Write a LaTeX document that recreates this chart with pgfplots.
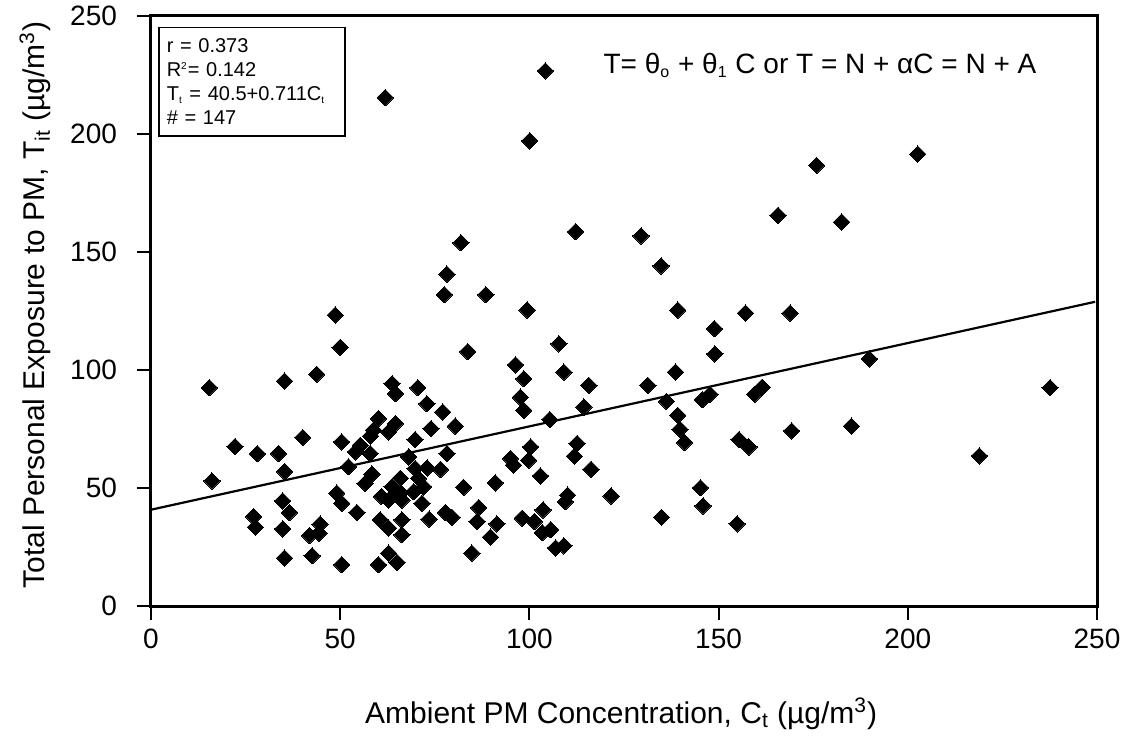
\documentclass[border=0pt]{standalone}
\usepackage{fontspec}
\setmainfont{Liberation Sans}
\usepackage{pgfplots}
\usepackage{pgfplotstable}
\pgfplotsset{compat=1.18}
\pgfplotstableread{
x y
15.4 92.5
35.3 95.3
43.8 98.2
50.0 109.6
22.2 67.6
28.1 64.5
33.7 64.6
40.1 71.4
50.4 69.5
35.3 57.0
16.1 53.0
34.8 44.5
36.6 39.6
27.1 37.9
27.6 33.4
34.8 32.7
41.9 29.9
44.7 34.7
44.4 30.9
35.3 20.3
42.6 21.3
50.4 17.5
49.1 47.8
50.4 43.5
83.7 107.8
96.3 102.2
98.5 96.3
97.6 88.5
98.5 82.9
63.7 94.2
64.6 90.0
70.5 92.5
72.9 85.7
77.1 82.2
80.4 76.2
74.0 75.2
60.1 79.4
58.8 74.5
64.6 77.3
62.8 73.8
69.8 70.5
55.3 68.1
54.0 65.3
57.9 64.6
78.2 64.6
68.1 63.2
52.2 59.0
76.5 57.9
58.4 55.9
56.6 52.0
69.8 58.3
70.7 54.1
65.9 54.1
72.0 50.5
63.7 50.5
62.8 44.9
66.3 44.9
64.5 47.5
54.4 39.6
71.6 43.5
60.6 36.5
62.8 33.0
66.3 36.5
66.3 30.2
73.5 36.8
77.8 39.6
79.5 37.6
82.6 50.3
86.6 41.7
86.2 35.8
91.4 34.8
89.7 29.2
91.0 52.2
95.0 62.5
95.8 59.7
98.1 37.2
84.8 22.4
60.1 17.5
62.8 22.4
65.0 18.5
107.8 111.1
109.1 99.1
115.7 93.5
114.4 84.3
105.4 79.0
100.3 67.4
99.8 61.8
112.6 68.9
111.9 63.5
116.3 57.9
102.9 55.1
121.6 46.6
110.1 47.0
109.5 44.2
101.3 35.8
103.6 40.7
103.4 31.1
105.6 32.3
106.9 24.6
109.1 25.5
148.9 117.5
149.0 106.8
138.6 99.1
131.3 93.5
136.2 86.7
139.2 80.8
139.8 74.9
141.0 69.3
147.7 89.7
145.7 87.4
161.5 92.7
159.5 89.7
155.4 70.5
158.0 67.4
169.3 74.2
185.1 76.2
189.8 104.7
145.2 50.1
145.9 42.4
134.9 37.6
154.9 34.8
61.9 215.4
81.9 153.9
78.2 140.6
77.5 131.9
48.7 123.3
88.5 131.9
104.2 226.7
100.1 197.1
112.2 158.6
129.5 156.8
165.7 165.5
134.8 144.1
99.4 125.4
139.2 125.4
157.1 124.1
168.9 124.1
175.9 186.7
202.6 191.5
182.5 162.7
237.6 92.5
218.9 63.6
69.4 48.4
60.9 46.5
66.0 48.0
73.0 58.5
58.0 72.0
}\pts
\begin{document}
\begin{tikzpicture}
\useasboundingbox (-75.5pt,-66pt) rectangle (491pt,303pt);
\begin{axis}[
  at={(0,0)}, anchor=south west,
  scale only axis, width=473pt, height=295pt,
  xmin=0, xmax=250, ymin=0, ymax=250,
  xtick={0,50,...,250}, ytick={0,50,...,250},
  tick align=outside, xtick pos=bottom, ytick pos=left,
  major tick length=7pt,
  axis line style={line width=1.5pt},
  major tick style={line width=1pt, black},
  /pgf/number format/assume math mode=true,
  ticklabel style={font=\fontsize{14}{16}\selectfont},
  yticklabel shift=6.5pt,
  xticklabel shift=1pt,
  xlabel={Ambient PM Concentration, C\textsubscript{t} (µg/m\textsuperscript{3})},
  ylabel={Total Personal Exposure to PM, T\textsubscript{it} (µg/m\textsuperscript{3})},
  label style={font=\fontsize{15}{17}\selectfont},
  xlabel style={at={(axis description cs:0.497,-0.183)}, anchor=center},
  ylabel style={at={(axis description cs:-0.1226,0.51)}, anchor=center},
  clip=false,
]
\addplot[black, line width=1.1pt, no marks] coordinates {(0,40.8) (249.5,128.9)};
\addplot[only marks, mark=square*, mark size=2.9pt,
  mark options={rotate=45, fill=black, draw=black, line width=0pt}] table[x=x,y=y] {\pts};
\node[draw, line width=0.9pt, anchor=north west, align=left, text width=85.5pt,
  inner xsep=3.8pt, inner ysep=5.6pt, font=\fontsize{10}{12}\selectfont]
  at (rel axis cs:0.0077,0.982)
  {r = 0.373\\R\textsuperscript{\tiny 2}= 0.142\\T\textsubscript{\tiny t} = 40.5+0.711C\textsubscript{\tiny t}\\\# = 147};
\node[anchor=base west, font=\fontsize{14}{16}\selectfont, inner sep=0pt]
  at (rel axis cs:0.478,0.903)
  {T= θ\textsubscript{\footnotesize o} + θ\textsubscript{\footnotesize 1} C or T = N + αC = N + A};
\end{axis}
\end{tikzpicture}
\end{document}
